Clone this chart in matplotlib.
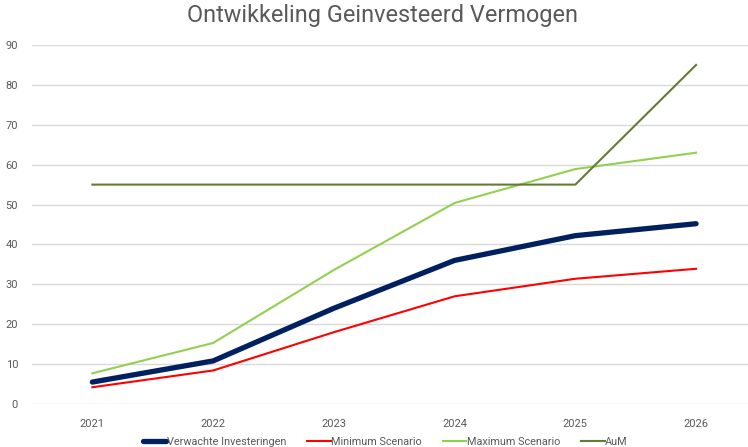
import numpy as np
import matplotlib.pyplot as plt

plt.rcParams['font.family'] = ['Roboto', 'DejaVu Sans']

# data
jaren = ['2021', '2022', '2023', '2024', '2025', '2026']
verwacht = [5.5, 10.8, 24, 36, 42.2, 45.2]
minimum = [4.2, 8.4, 18, 27, 31.4, 33.9]
maximum = [7.7, 15.3, 33.6, 50.4, 58.9, 63]
aum = [55, 55, 55, 55, 55, 85]

fig = plt.figure(figsize=(7.48, 4.47), dpi=100)
ax = fig.add_axes([32 / 748, 1 - 404 / 447, 1 - 32 / 748, (404 - 45) / 447])

x = np.arange(len(jaren))
ax.plot(x, verwacht, color='#002060', lw=3.8, solid_capstyle='round', label='Verwachte Investeringen')
ax.plot(x, minimum, color='#FF0000', lw=1.5, label='Minimum Scenario')
ax.plot(x, maximum, color='#92D050', lw=1.5, label='Maximum Scenario')
ax.plot(x, aum, color='#667A38', lw=1.5, label='AuM')

ax.set_ylim(0, 90)
ax.set_yticks(range(0, 91, 10))
ax.set_xlim(-0.5, 5.43)
ax.set_xticks(x)
ax.set_xticklabels(jaren)
ax.grid(axis='y', color='#d9d9d9', lw=1)
ax.set_axisbelow(True)
for s in ax.spines.values():
    s.set_visible(False)
ax.tick_params(length=0, labelsize=8, colors='#595959')
ax.tick_params(axis='y', pad=10)
ax.tick_params(axis='x', pad=11)

fig.suptitle('Ontwikkeling Geinvesteerd Vermogen', x=0.512, y=0.992, fontsize=16.9, color='#595959')
fig.legend(loc='lower center', bbox_to_anchor=(0.515, -0.022), ncol=4, frameon=False,
           fontsize=7.8, labelcolor='#595959', handlelength=2.2, handletextpad=0.05,
           columnspacing=1.9)

fig.savefig('out.png', dpi=100)
